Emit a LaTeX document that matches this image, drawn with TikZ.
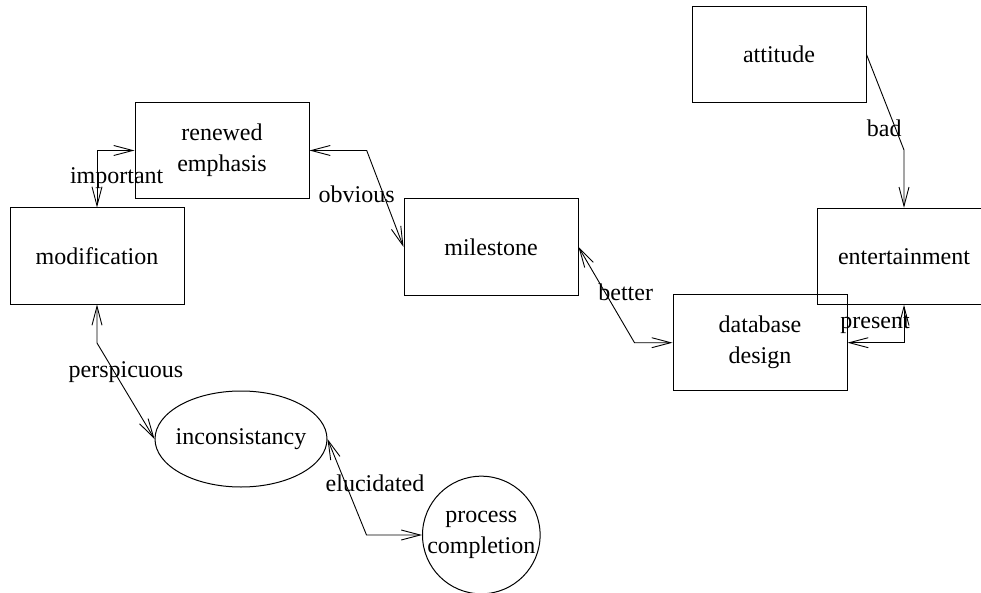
\documentclass[tikz,border=0pt]{standalone}
\usepackage{fontspec}
\setmainfont{Liberation Serif}
\usetikzlibrary{arrows.meta,shapes.geometric}
\begin{document}
\begin{tikzpicture}[x=1pt,y=-1pt,
  every node/.style={font=\fontsize{24}{31}\selectfont, inner sep=0pt},
  box/.style={draw, line width=1pt, minimum width=174pt, minimum height=96pt, align=center},
  oval/.style={draw, ellipse, line width=1pt, minimum width=172pt, minimum height=96pt},
  roundnode/.style={draw, circle, line width=1pt, minimum size=116pt, align=center},
  lbl/.style={anchor=base},
  tip/.tip={Straight Barb[length=19pt,width=10pt]},
  both/.style={line width=0.9pt, tip-tip},
  one/.style={line width=0.9pt, -tip}]
\useasboundingbox (0,0) rectangle (981,593);
% nodes
\node[box] (att) at (779,54.5) {attitude};
\node[box] (ren) at (222,150.5) {renewed\\emphasis};
\node[box] (mod) at (97,256) {modification};
\node[box] (mil) at (491,247) {milestone};
\node[box] (ent) at (904,256.3) {entertainment};
\node[box] (db) at (760,342.7) {database\\design};
\node[oval] (inc) at (241,439) {\makebox[0pt]{inconsistancy}};
\node[roundnode] (pc) at (481.3,535) {process\\completion};
% bend points
\coordinate (b1) at (97,150.5);
\coordinate (b2) at (366.7,150.5);
\coordinate (b3) at (634.5,342.7);
\coordinate (b4) at (904,150);
\coordinate (b5) at (904,342.7);
\coordinate (b6) at (97,343);
\coordinate (b7) at (366.5,535);
% connectors
\draw[both] (mod.north) -- (b1) -- (ren.west);
\draw[both] (ren.east) -- (b2) -- (mil.west);
\draw[both] (mil.east) -- (b3) -- (db.west);
\draw[one] (att.east) -- (b4) -- (ent.north);
\draw[both] (ent.south) -- (b5) -- (db.east);
\draw[both] (mod.south) -- (b6) -- (inc.west);
\draw[both] (inc.east) -- (b7) -- (pc.west);
% labels
\node[lbl] (l1) at (116.7,184) {important};
\node[lbl] (l2) at (356.7,202.7) {obvious};
\node[lbl] (l3) at (625.7,300) {better};
\node[lbl] (l4) at (884.2,136.7) {bad};
\node[lbl] (l5) at (875,328.3) {present};
\node[lbl] (l6) at (126,377.3) {perspicuous};
\node[lbl] (l7) at (375,491.7) {elucidated};
\end{tikzpicture}
\end{document}
